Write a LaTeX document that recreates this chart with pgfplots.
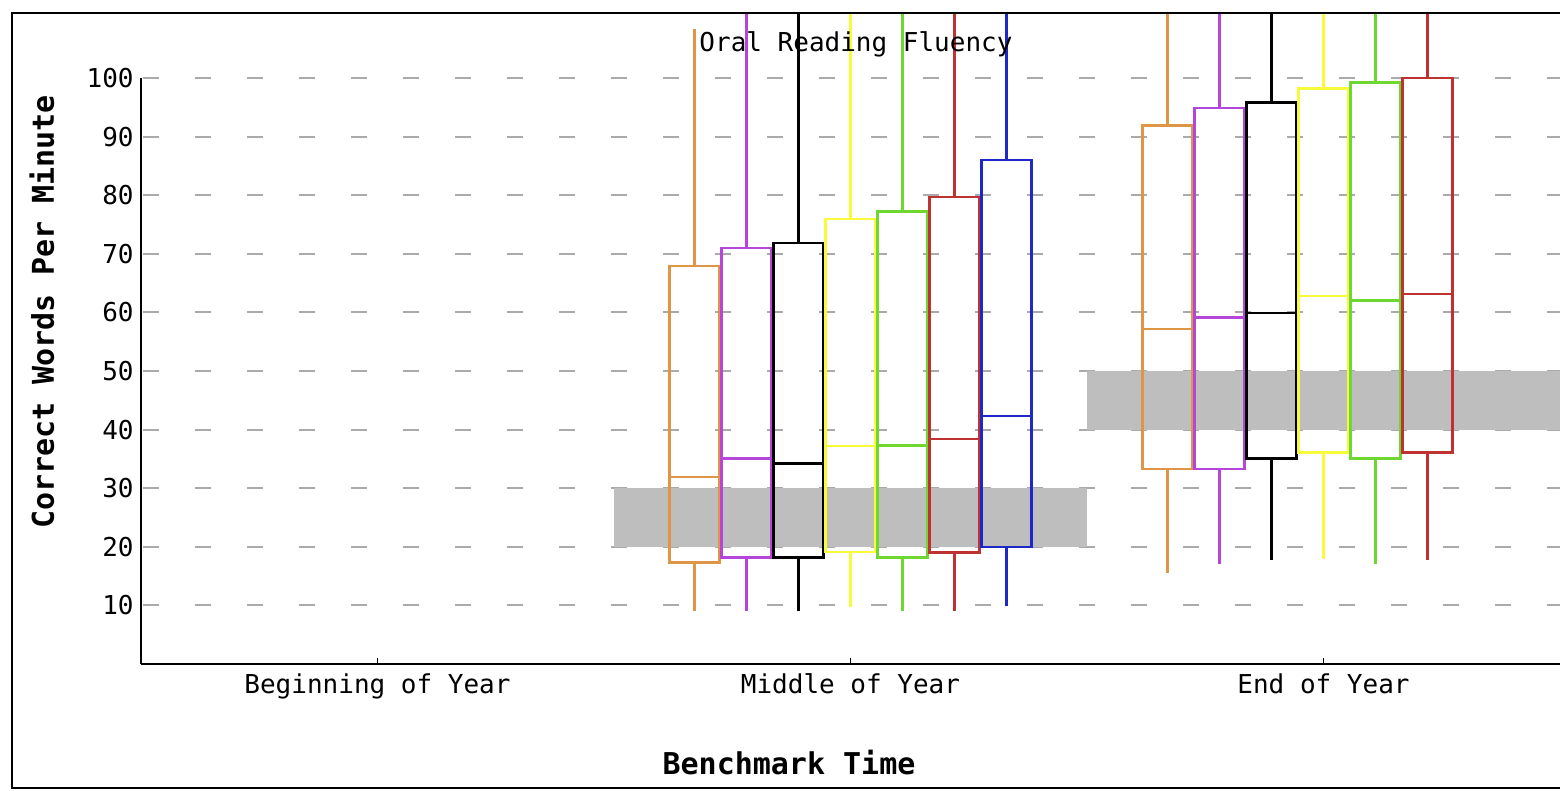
\documentclass[border=0pt]{standalone}
\usepackage{fontspec}
\usepackage{pgfplots}
\pgfplotsset{compat=1.18}
\newfontfamily\monofont{DejaVu Sans Mono}
\definecolor{cOrange}{RGB}{222,150,70}
\definecolor{cPurple}{RGB}{180,70,220}
\definecolor{cBlack}{RGB}{0,0,0}
\definecolor{cYellow}{RGB}{250,250,60}
\definecolor{cGreen}{RGB}{110,215,50}
\definecolor{cRed}{RGB}{190,50,50}
\definecolor{cBlue}{RGB}{30,40,200}
\definecolor{band}{RGB}{190,190,190}
\definecolor{gridc}{RGB}{170,170,170}
% box: color, position, lower whisker, Q1, median, Q3, upper whisker
\newcommand{\bx}[7]{%
 \pgfmathsetmacro{\xl}{#2-0.0528}\pgfmathsetmacro{\xr}{#2+0.0528}%
 \edef\temp{\noexpand\addplot[#1, line width=1.2pt, line cap=rect, unbounded coords=jump, mark=none] coordinates {(\xl,#4) (\xr,#4) (\xr,#6) (\xl,#6) (\xl,#4) (nan,nan) (\xl,#5) (\xr,#5) (nan,nan) (#2,#3) (#2,#4) (nan,nan) (#2,#6) (#2,#7)};}\temp}
\begin{document}
\begin{tikzpicture}
\begin{axis}[name=ax, at={(0,0)}, anchor=south west,
  scale only axis, width=709.5pt, height=293pt,
  xmin=-0.5, xmax=2.5, ymin=0, ymax=100, clip=false,
  axis lines=left, axis line style={-, line width=1.1pt, black},
  xtick={0,1,2}, xticklabels={Beginning of Year,Middle of Year,End of Year},
  ytick={10,20,...,100},
  tick align=inside, major tick length=3pt,
  xtick style={line width=0.8pt, black},
  ytick style={draw=none},
  ymajorgrids, grid style={gridc, line width=1pt, dash pattern=on 8pt off 18pt, dash phase=-1pt},
  tick label style={font=\monofont\fontsize{13}{13}\selectfont},
  yticklabel style={anchor=east, inner sep=0pt, xshift=-3.5pt},
  xticklabel style={anchor=base, inner sep=0pt, yshift=-15pt},
  /pgf/number format/assume math mode=true,
]
\addplot[fill=band, draw=none] coordinates {(0.5,20) (1.5,20) (1.5,30) (0.5,30)} -- cycle;
\addplot[fill=band, draw=none] coordinates {(1.5,40) (2.5,40) (2.5,50) (1.5,50)} -- cycle;
% Middle of Year
\bx{cOrange}{0.67}{9.2}{17.3}{31.9}{67.9}{108.2}
\bx{cPurple}{0.78}{9.2}{18.2}{35.1}{71.0}{111}
\bx{cBlack}{0.89}{9.2}{18.2}{34.2}{71.8}{111}
\bx{cYellow}{1.00}{10.0}{19.1}{37.2}{75.9}{111}
\bx{cGreen}{1.11}{9.2}{18.2}{37.3}{77.2}{111}
\bx{cRed}{1.22}{9.2}{19.0}{38.4}{79.7}{111}
\bx{cBlue}{1.33}{10.1}{20.0}{42.3}{86.0}{111}
% End of Year
\bx{cOrange}{1.67}{15.8}{33.3}{57.2}{91.9}{111}
\bx{cPurple}{1.78}{17.2}{33.3}{59.1}{94.9}{111}
\bx{cBlack}{1.89}{18.0}{35.1}{59.9}{95.8}{111}
\bx{cYellow}{2.00}{18.2}{36.1}{62.8}{98.2}{111}
\bx{cGreen}{2.11}{17.2}{35.1}{62.0}{99.2}{111}
\bx{cRed}{2.22}{18.0}{36.1}{63.1}{100.0}{111}
\end{axis}
\draw[line width=1.2pt] (-64.5pt,-62pt) rectangle (714.5pt,325.5pt);
\node[anchor=base, inner sep=0pt, font=\monofont\fontsize{13}{13}\selectfont] at (357.5pt,306pt) {Oral Reading Fluency};
\node[anchor=base, inner sep=0pt, font=\monofont\bfseries\fontsize{15}{15}\selectfont] at (324pt,-55.5pt) {Benchmark Time};
\node[anchor=base, rotate=90, inner sep=0pt, font=\monofont\bfseries\fontsize{15}{15}\selectfont] at (-43.5pt,176pt) {Correct Words Per Minute};
\pgfresetboundingbox
\useasboundingbox (-70.5pt,-63.5pt) rectangle (709.5pt,332pt);
\end{tikzpicture}
\end{document}
